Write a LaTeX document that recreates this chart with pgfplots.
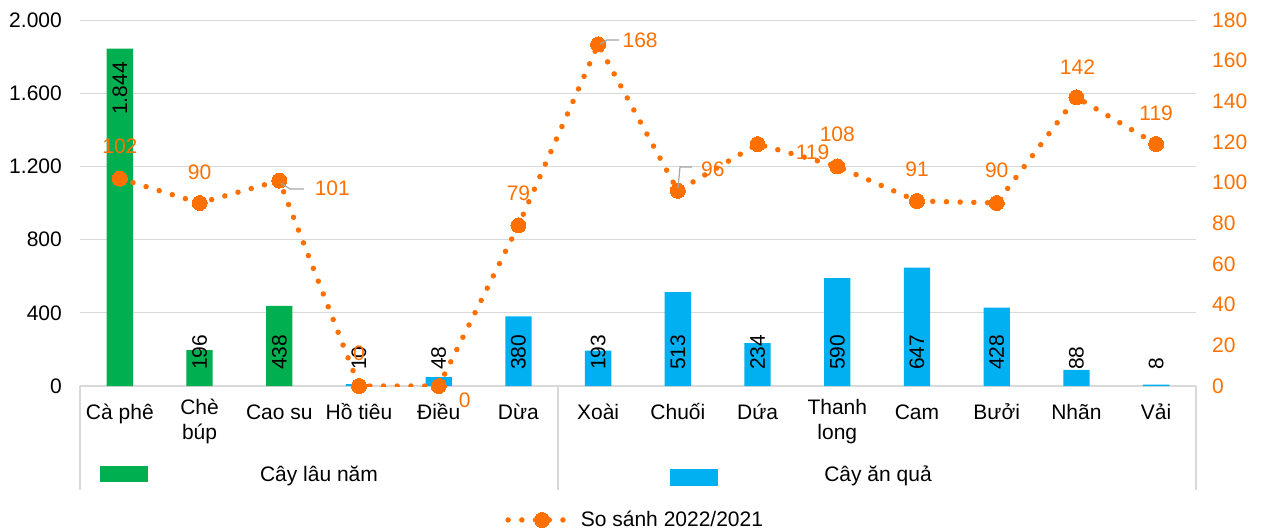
\documentclass[border=0pt]{standalone}
\usepackage{fontspec}
\setmainfont{Liberation Sans}
\usepackage{pgfplots}
\usepackage{pgfplotstable}
\pgfplotsset{compat=1.18}
\definecolor{cgreen}{RGB}{0,176,80}
\definecolor{cblue}{RGB}{0,176,240}
\definecolor{corange}{RGB}{255,112,0}
\definecolor{cgrid}{RGB}{217,217,217}
\newcommand\ff{\fontsize{21bp}{25bp}\selectfont}

% x = category index, v = value, ly = label start above axis (bp)
\pgfplotstableread{
x v ly
0 1844 271
1 196 16
2 438 16
}\longterm
\pgfplotstableread{
x v ly
3 10 16
4 48 16
5 380 16
6 193 16
7 513 16
8 234 16
9 590 16
10 647 16
11 428 16
12 88 16
13 8 16
}\fruit
% dx, dy = label offset from point (bp)
\pgfplotstableread{
x v dx dy
0 102 0 32
1 90 0 31
2 101 53 -8
3 0 0 33
4 0 26 -14
5 79 0 32
6 168 42 4
7 96 35 22
8 119 55 -8
9 108 0 32
10 91 0 32
11 90 0 33
12 142 1 30
13 119 0 31
}\ratio

\begin{document}
\begin{tikzpicture}
\path[use as bounding box] (-80bp,-145bp) rectangle (1187bp,386bp);
\begin{axis}[
  at={(0,0)}, anchor=south west, scale only axis,
  width=1116bp, height=366bp,
  xmin=-0.5, xmax=13.5, ymin=0, ymax=2000,
  axis x line*=bottom, axis y line*=left,
  x axis line style={cgrid, line width=2bp, -},
  y axis line style={draw=none},
  major tick length=0,
  ytick={0,400,...,2000},
  ymajorgrids, grid style={cgrid, line width=0.8bp},
  xtick={0,...,13},
  xticklabels={Cà phê, Chè\\búp, Cao su, Hồ tiêu, Điều, Dừa, Xoài, Chuối, Dứa, Thanh\\long, Cam, Bưởi, Nhãn, Vải},
  xticklabel style={font=\ff, align=center, anchor=north, inner sep=0pt, yshift=-13bp,
    execute at begin node={\rule{0pt}{20bp}}},
  yticklabel style={font=\ff, anchor=east, inner sep=0pt, xshift=-18bp},
  /pgf/number format/1000 sep={.},
  /pgf/number format/assume math mode=true,
  ybar, bar width=0.33, bar shift=0pt,
  visualization depends on={\thisrow{ly}-0.183*\thisrow{v} \as \lshift},
  nodes near coords,
  every node near coord/.append style={font=\ff, black, yshift=\lshift bp, rotate=90, anchor=west, inner sep=0pt},
]
\addplot[fill=cgreen, draw=none] table[x=x, y=v] {\longterm};
\addplot[fill=cblue, draw=none] table[x=x, y=v] {\fruit};
\end{axis}
\begin{axis}[
  at={(0,0)}, anchor=south west, scale only axis,
  width=1116bp, height=366bp,
  xmin=-0.5, xmax=13.5, ymin=0, ymax=180,
  axis y line*=right, axis x line=none,
  y axis line style={draw=none},
  major tick length=0,
  ytick={0,20,...,180},
  yticklabel style={font=\ff, corange, anchor=west, inner sep=0pt, xshift=16bp},
  /pgf/number format/assume math mode=true,
  legend style={at={(0.381,-0.366)}, anchor=west, draw=none, fill=none, inner sep=0pt, font=\ff,
    /tikz/every odd column/.style={column sep=12bp}},
  legend image code/.code={\draw[#1, mark repeat=2, mark phase=2] plot coordinates {(0bp,0bp) (34bp,0bp) (56bp,0bp)};},
]
\addplot[corange, line width=5.5bp, line cap=round, dash pattern=on 0bp off 13.7bp,
  mark=*, mark size=7.5bp, mark options={solid, fill=corange, draw=corange, line width=0pt},
  visualization depends on={\thisrow{dx} \as \ldx},
  visualization depends on={\thisrow{dy} \as \ldy},
  nodes near coords,
  every node near coord/.append style={font=\ff, corange, anchor=center, xshift=\ldx bp, yshift=\ldy bp},
] table[x=x, y=v] {\ratio};
\addlegendentry{So sánh 2022/2021}
\end{axis}
% leader lines
\draw[gray!70, line width=1.2bp] (201bp,203bp) -- (210bp,197bp) -- (224bp,197bp);
\draw[gray!70, line width=1.2bp] (520bp,342bp) -- (527bp,346bp) -- (539bp,346bp);
\draw[gray!70, line width=1.2bp] (598bp,198bp) -- (600bp,219bp) -- (612bp,219bp);
% multi-level category axis
\foreach \xx in {0,478,1116} \draw[cgrid, line width=2bp] (\xx bp,0) -- (\xx bp,-104bp);
\fill[cgreen] (20bp,-80bp) rectangle (68bp,-96bp);
\node[font=\ff] at (239bp,-90bp) {Cây lâu năm};
\fill[cblue] (590bp,-83bp) rectangle (638bp,-100bp);
\node[font=\ff] at (798bp,-90bp) {Cây ăn quả};
\end{tikzpicture}
\end{document}
